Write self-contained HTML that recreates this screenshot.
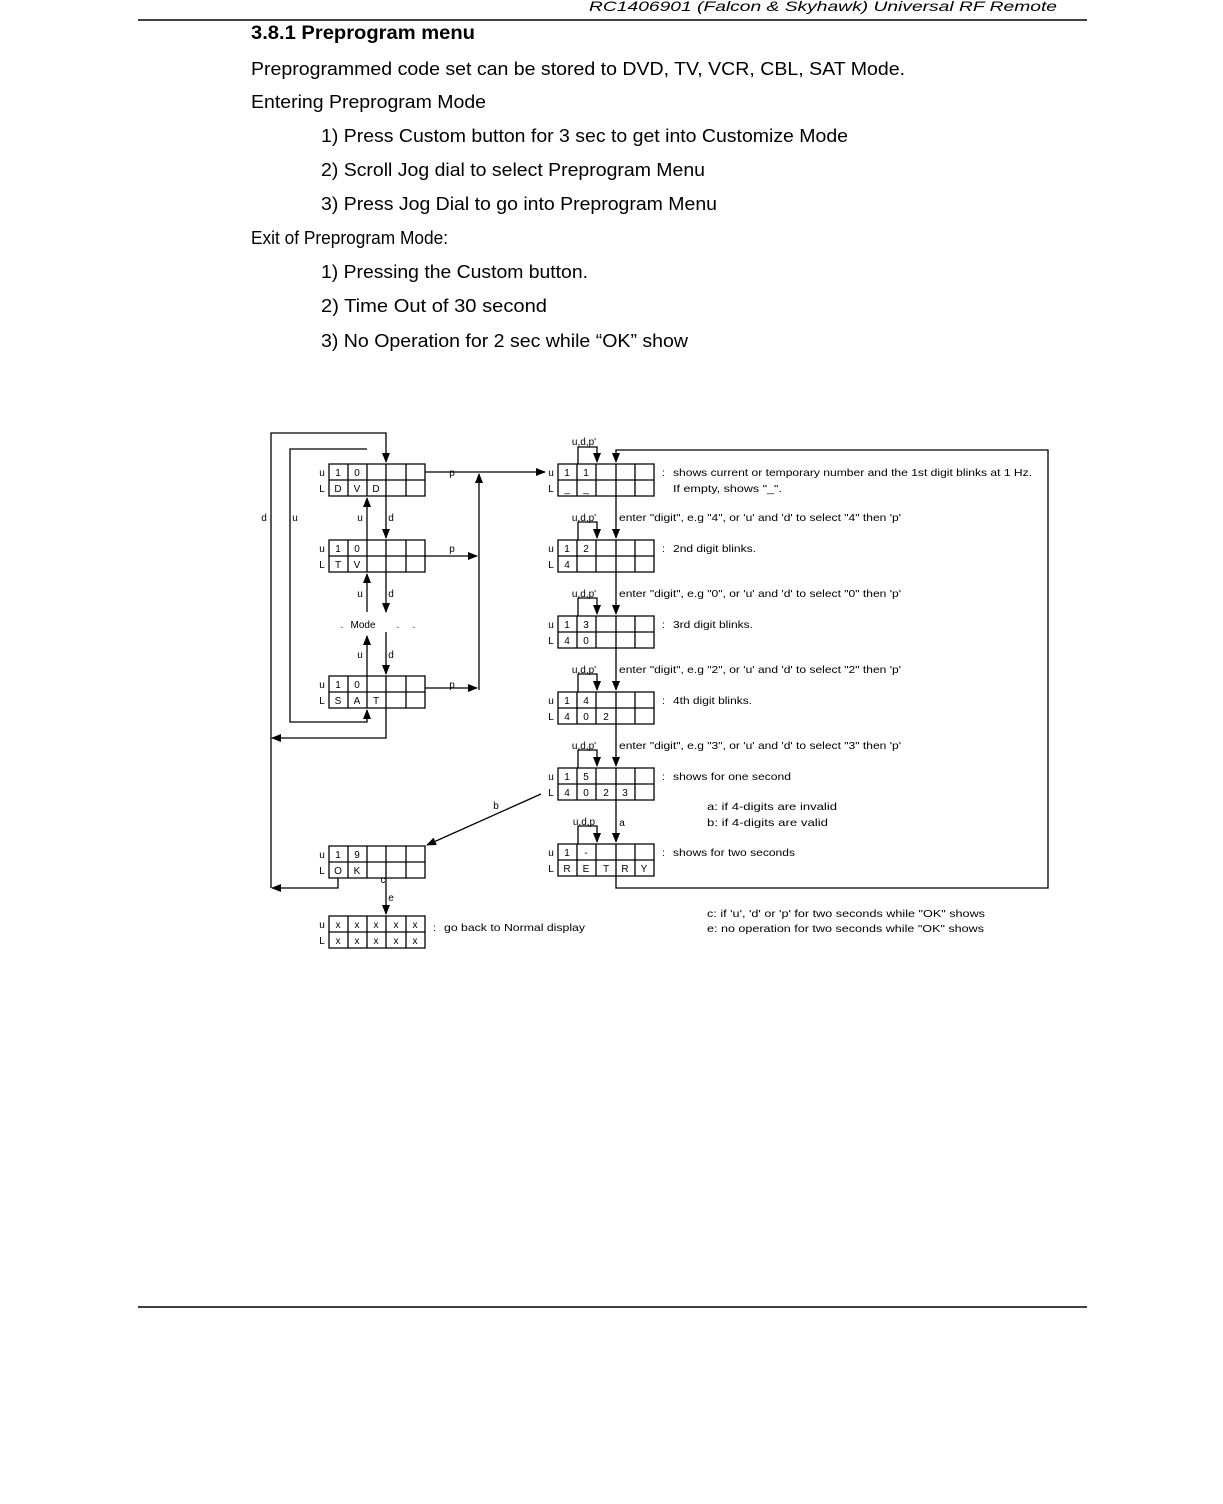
<!DOCTYPE html>
<html><head><meta charset="utf-8"><style>html,body{margin:0;padding:0;background:#fff}svg{display:block}</style></head>
<body>
<svg width="1223" height="1504" viewBox="0 0 1223 1504" xmlns="http://www.w3.org/2000/svg" font-family="Liberation Sans, Arial, sans-serif" fill="#000">
<defs>
<marker id="a" markerWidth="10" markerHeight="10" refX="9" refY="5" orient="auto" markerUnits="userSpaceOnUse"><path d="M0,1 L10,5 L0,9 z"/></marker>
</defs>
<text x="1057" y="11" font-size="14" font-style="italic" text-anchor="end" textLength="468" lengthAdjust="spacingAndGlyphs">RC1406901 (Falcon &amp; Skyhawk) Universal RF Remote</text>
<line x1="138" y1="20" x2="1087" y2="20" stroke="#000" stroke-width="1.5"/>
<text x="251" y="39" font-size="19" font-weight="bold" textLength="224" lengthAdjust="spacingAndGlyphs">3.8.1  Preprogram menu</text>
<g font-size="18.5">
<text x="251" y="75" textLength="654" lengthAdjust="spacingAndGlyphs">Preprogrammed code set can be stored to DVD, TV, VCR, CBL, SAT Mode.</text>
<text x="251" y="108" textLength="235" lengthAdjust="spacingAndGlyphs">Entering Preprogram Mode</text>
<text x="321" y="142" textLength="527" lengthAdjust="spacingAndGlyphs">1) Press Custom button for 3 sec to get into Customize Mode</text>
<text x="321" y="176" textLength="384" lengthAdjust="spacingAndGlyphs">2) Scroll Jog dial to select Preprogram Menu</text>
<text x="321" y="210" textLength="396" lengthAdjust="spacingAndGlyphs">3) Press Jog Dial to go into Preprogram Menu</text>
<text x="251" y="244" textLength="197" lengthAdjust="spacingAndGlyphs">Exit of Preprogram Mode:</text>
<text x="321" y="278" textLength="267" lengthAdjust="spacingAndGlyphs">1) Pressing the Custom button.</text>
<text x="321" y="312" textLength="226" lengthAdjust="spacingAndGlyphs">2) Time Out of  30 second</text>
<text x="321" y="347" textLength="367" lengthAdjust="spacingAndGlyphs">3) No Operation for 2 sec while “OK” show</text>
</g>
<line x1="138" y1="1307" x2="1087" y2="1307" stroke="#000" stroke-width="1.5"/>

<g stroke="#000" stroke-width="1.3" fill="none">
<path d="M329,464h96v32h-96z M329,480h96 M348,464v32 M367,464v32 M386,464v32 M406,464v32"/>
<path d="M329,540h96v32h-96z M329,556h96 M348,540v32 M367,540v32 M386,540v32 M406,540v32"/>
<path d="M329,676h96v32h-96z M329,692h96 M348,676v32 M367,676v32 M386,676v32 M406,676v32"/>
<path d="M329,846h96v32h-96z M329,862h96 M348,846v32 M367,846v32 M386,846v32 M406,846v32"/>
<path d="M329,916h96v32h-96z M329,932h96 M348,916v32 M367,916v32 M386,916v32 M406,916v32"/>
<path d="M558,464h96v32h-96z M558,480h96 M577,464v32 M596,464v32 M616,464v32 M635,464v32"/>
<path d="M558,540h96v32h-96z M558,556h96 M577,540v32 M596,540v32 M616,540v32 M635,540v32"/>
<path d="M558,616h96v32h-96z M558,632h96 M577,616v32 M596,616v32 M616,616v32 M635,616v32"/>
<path d="M558,692h96v32h-96z M558,708h96 M577,692v32 M596,692v32 M616,692v32 M635,692v32"/>
<path d="M558,768h96v32h-96z M558,784h96 M577,768v32 M596,768v32 M616,768v32 M635,768v32"/>
<path d="M558,844h96v32h-96z M558,860h96 M577,844v32 M596,844v32 M616,844v32 M635,844v32"/>

<path d="M386,708 V738 H272" marker-end="url(#a)"/>
<path d="M271,888 V433 H386 V462" marker-end="url(#a)"/>
<path d="M367,449 H290 V722 H367 V710" marker-end="url(#a)"/>
<path d="M386,496 V538" marker-end="url(#a)"/>
<path d="M386,572 V612" marker-end="url(#a)"/>
<path d="M386,632 V674" marker-end="url(#a)"/>
<path d="M367,540 V498" marker-end="url(#a)"/>
<path d="M367,612 V574" marker-end="url(#a)"/>
<path d="M367,676 V636" marker-end="url(#a)"/>
<path d="M425,472 H545" marker-end="url(#a)"/>
<path d="M479,690 V474" marker-end="url(#a)"/>
<path d="M425,556 H477" marker-end="url(#a)"/>
<path d="M425,688 H477" marker-end="url(#a)"/>
<path d="M616,876 V888 H1048 V450 H616 V462" marker-end="url(#a)"/>
<path d="M616,496 V538" marker-end="url(#a)"/>
<path d="M616,572 V614" marker-end="url(#a)"/>
<path d="M616,648 V690" marker-end="url(#a)"/>
<path d="M616,724 V766" marker-end="url(#a)"/>
<path d="M616,800 V842" marker-end="url(#a)"/>
<path d="M578,464 V447 H597 V462" marker-end="url(#a)"/>
<path d="M578,540 V522 H597 V538" marker-end="url(#a)"/>
<path d="M578,616 V598 H597 V614" marker-end="url(#a)"/>
<path d="M578,692 V674 H597 V690" marker-end="url(#a)"/>
<path d="M578,768 V750 H597 V766" marker-end="url(#a)"/>
<path d="M578,844 V826 H597 V842" marker-end="url(#a)"/>
<path d="M541,794 L427,845" marker-end="url(#a)"/>
<path d="M338,878 V888 H272" marker-end="url(#a)"/>
<path d="M386,878 V914" marker-end="url(#a)"/>
</g>

<g font-size="10" text-anchor="middle">
<text x="322" y="476">u</text><text x="322" y="492">L</text>
<text x="338" y="476">1</text><text x="357" y="476">0</text><text x="338" y="492">D</text><text x="357" y="492">V</text><text x="376" y="492">D</text>
<text x="322" y="552">u</text><text x="322" y="568">L</text>
<text x="338" y="552">1</text><text x="357" y="552">0</text><text x="338" y="568">T</text><text x="357" y="568">V</text>
<text x="322" y="688">u</text><text x="322" y="704">L</text>
<text x="338" y="688">1</text><text x="357" y="688">0</text><text x="338" y="704">S</text><text x="357" y="704">A</text><text x="376" y="704">T</text>
<text x="322" y="858">u</text><text x="322" y="874">L</text>
<text x="338" y="858">1</text><text x="357" y="858">9</text><text x="338" y="874">O</text><text x="357" y="874">K</text>
<text x="322" y="928">u</text><text x="322" y="944">L</text>
<text x="338" y="928">x</text><text x="357" y="928">x</text><text x="376" y="928">x</text><text x="396" y="928">x</text><text x="415" y="928">x</text>
<text x="338" y="944">x</text><text x="357" y="944">x</text><text x="376" y="944">x</text><text x="396" y="944">x</text><text x="415" y="944">x</text>
<text x="264" y="521">d</text><text x="295" y="521">u</text><text x="360" y="521">u</text><text x="391" y="521">d</text>
<text x="360" y="597">u</text><text x="391" y="597">d</text>
<text x="360" y="658">u</text><text x="391" y="658">d</text>
<text x="363" y="628">Mode</text><text x="342" y="628">.</text><text x="398" y="628">.</text><text x="414" y="628">.</text>
<text x="452" y="476">p</text><text x="452" y="552">p</text><text x="452" y="688">p</text>
<text x="496" y="809">b</text><text x="383" y="883">c</text><text x="391" y="901">e</text><text x="622" y="826">a</text>
<text x="551" y="476">u</text><text x="551" y="492">L</text>
<text x="567" y="476">1</text><text x="586" y="476">1</text><text x="567" y="492">_</text><text x="586" y="492">_</text>
<text x="551" y="552">u</text><text x="551" y="568">L</text>
<text x="567" y="552">1</text><text x="586" y="552">2</text><text x="567" y="568">4</text>
<text x="551" y="628">u</text><text x="551" y="644">L</text>
<text x="567" y="628">1</text><text x="586" y="628">3</text><text x="567" y="644">4</text><text x="586" y="644">0</text>
<text x="551" y="704">u</text><text x="551" y="720">L</text>
<text x="567" y="704">1</text><text x="586" y="704">4</text><text x="567" y="720">4</text><text x="586" y="720">0</text><text x="606" y="720">2</text>
<text x="551" y="780">u</text><text x="551" y="796">L</text>
<text x="567" y="780">1</text><text x="586" y="780">5</text><text x="567" y="796">4</text><text x="586" y="796">0</text><text x="606" y="796">2</text><text x="625" y="796">3</text>
<text x="551" y="856">u</text><text x="551" y="872">L</text>
<text x="567" y="856">1</text><text x="586" y="856">-</text><text x="567" y="872">R</text><text x="586" y="872">E</text><text x="606" y="872">T</text><text x="625" y="872">R</text><text x="644" y="872">Y</text>
<text x="584" y="445">u,d,p'</text><text x="584" y="521">u,d,p'</text><text x="584" y="597">u,d,p'</text><text x="584" y="673">u,d,p'</text><text x="584" y="749">u,d,p'</text><text x="584" y="825">u,d,p</text>
</g>
<g font-size="10.5" lengthAdjust="spacingAndGlyphs">
<text x="662" y="476">:</text><text x="673" y="476" textLength="359" lengthAdjust="spacingAndGlyphs">shows current or temporary number and the 1st digit blinks at 1 Hz.</text>
<text x="673" y="492" textLength="109" lengthAdjust="spacingAndGlyphs">If empty, shows "_".</text>
<text x="619" y="521" textLength="282" lengthAdjust="spacingAndGlyphs">enter "digit", e.g "4", or 'u' and 'd' to select "4" then 'p'</text>
<text x="662" y="552">:</text><text x="673" y="552" textLength="83" lengthAdjust="spacingAndGlyphs">2nd digit blinks.</text>
<text x="619" y="597" textLength="282" lengthAdjust="spacingAndGlyphs">enter "digit", e.g "0", or 'u' and 'd' to select "0" then 'p'</text>
<text x="662" y="628">:</text><text x="673" y="628" textLength="80" lengthAdjust="spacingAndGlyphs">3rd digit blinks.</text>
<text x="619" y="673" textLength="282" lengthAdjust="spacingAndGlyphs">enter "digit", e.g "2", or 'u' and 'd' to select "2" then 'p'</text>
<text x="662" y="704">:</text><text x="673" y="704" textLength="79" lengthAdjust="spacingAndGlyphs">4th digit blinks.</text>
<text x="619" y="749" textLength="282" lengthAdjust="spacingAndGlyphs">enter "digit", e.g "3", or 'u' and 'd' to select "3" then 'p'</text>
<text x="662" y="780">:</text><text x="673" y="780" textLength="118" lengthAdjust="spacingAndGlyphs">shows for one second</text>
<text x="707" y="810" textLength="130" lengthAdjust="spacingAndGlyphs">a:  if 4-digits are invalid</text>
<text x="707" y="826" textLength="121" lengthAdjust="spacingAndGlyphs">b:  if 4-digits are valid</text>
<text x="662" y="856">:</text><text x="673" y="856" textLength="122" lengthAdjust="spacingAndGlyphs">shows for two seconds</text>
<text x="433" y="931">:</text><text x="444" y="931" textLength="141" lengthAdjust="spacingAndGlyphs">go back to Normal display</text>
<text x="707" y="917" textLength="278" lengthAdjust="spacingAndGlyphs">c:  if 'u', 'd' or 'p' for two seconds while "OK" shows</text>
<text x="707" y="932" textLength="277" lengthAdjust="spacingAndGlyphs">e:  no operation for two seconds while "OK" shows</text>
</g>
</svg>
</body></html>
